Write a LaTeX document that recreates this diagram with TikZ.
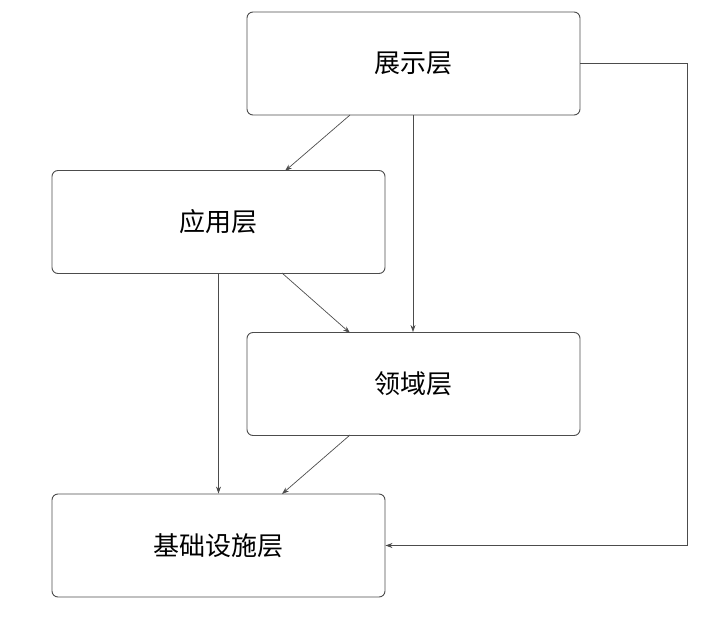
\documentclass[tikz,border=0pt]{standalone}
\usepackage{fontspec}
\newfontfamily\cjk{Noto Sans CJK SC}
\usetikzlibrary{arrows.meta}
\begin{document}
\begin{tikzpicture}[x=1pt,y=-1pt,
  box/.style={draw=black!70,line width=0.9pt,rounded corners=6pt,minimum width=333pt,minimum height=103pt,font=\cjk\fontsize{26}{30}\selectfont,inner sep=0pt},
  conn/.style={draw=black!70,line width=0.7pt,-{Stealth[length=7pt,width=5pt]}}]
\useasboundingbox (0,0) rectangle (713,627);
\node[box] (show) at (413.5,63.5) {展示层};
\node[box] (app) at (218.5,222) {应用层};
\node[box] (dom) at (413.5,384) {领域层};
\node[box] (inf) at (218.5,545.5) {基础设施层};
\coordinate (a1) at (350,115); \coordinate (a2) at (285,171);
\draw[conn] (a1) -- (a2);
\draw[conn] (show.south -| 413,0) -- (dom.north -| 413,0);
\draw[conn] (show.east) -- (687,63.5) |- (inf.east);
\draw[conn] (app.south) -- (inf.north);
\coordinate (b1) at (282,273); \coordinate (b2) at (350,333);
\draw[conn] (b1) -- (b2);
\coordinate (c1) at (350,435); \coordinate (c2) at (282,494);
\draw[conn] (c1) -- (c2);
\end{tikzpicture}
\end{document}
